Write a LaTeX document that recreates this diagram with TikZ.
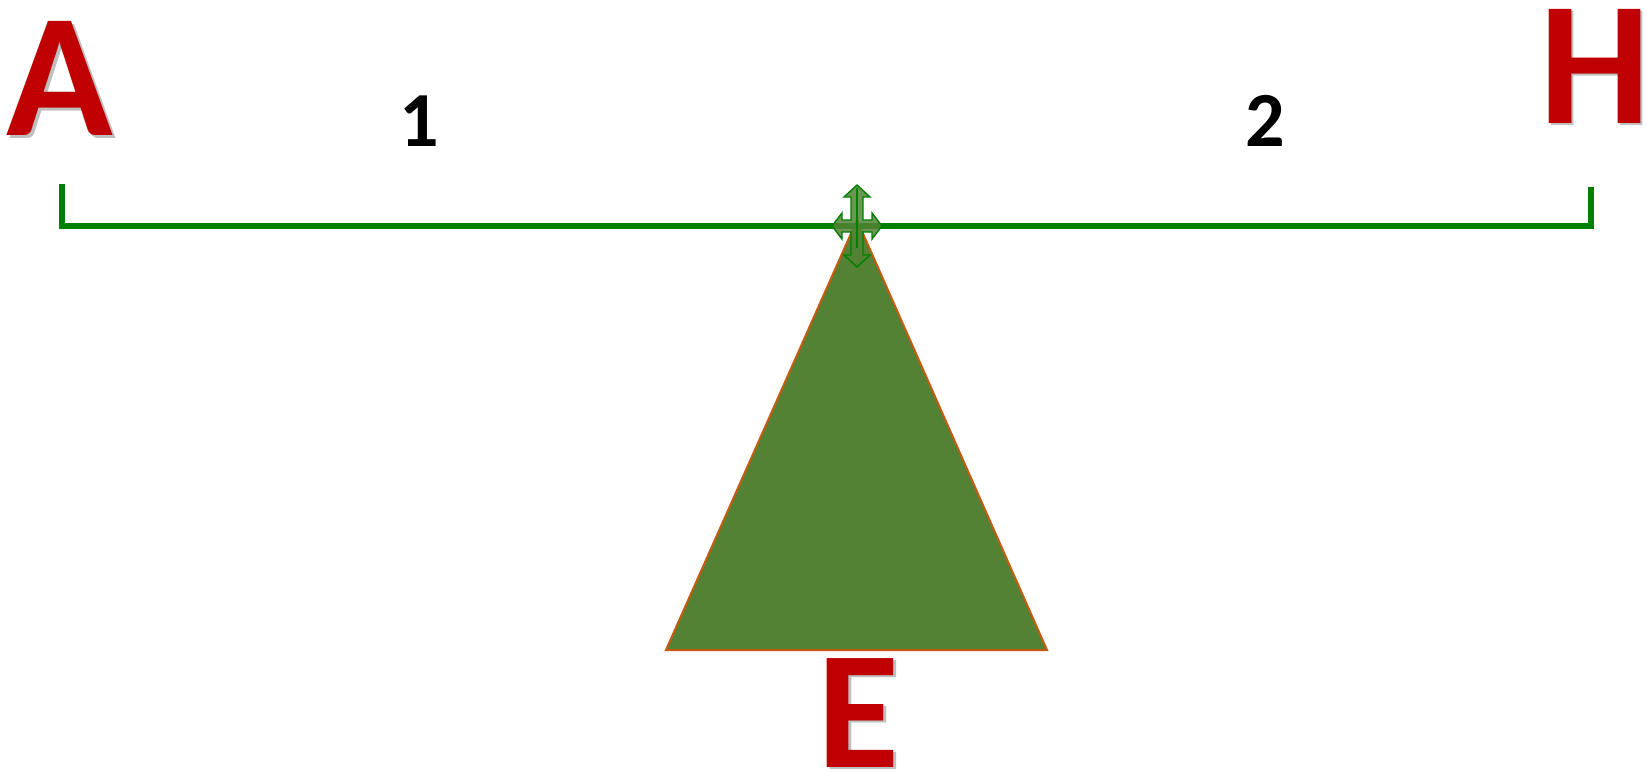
\documentclass[tikz,border=0pt]{standalone}
\usepackage{fontspec}
\setmainfont{Carlito}
\usetikzlibrary{calc}
\definecolor{letterred}{HTML}{C00000}
\definecolor{beamgreen}{HTML}{008000}
\definecolor{fulcrum}{HTML}{548235}
\definecolor{rim}{HTML}{C55A11}
\begin{document}
\begin{tikzpicture}[x=0.5pt,y=-0.5pt,
  bigletter/.style={font=\fontsize{88}{88}\selectfont\bfseries, text=letterred, inner sep=0pt},
  shade/.style={font=\fontsize{88}{88}\selectfont\bfseries, text=black, text opacity=0.25, inner sep=0pt},
  digit/.style={font=\fontsize{39}{39}\selectfont\bfseries, text=black, inner sep=0pt},
  beam/.style={draw=beamgreen, line width=2.8pt},
  pivot/.style={fill=fulcrum, draw=rim, line width=1pt, line join=miter},
  movearrow/.style={fill=fulcrum, fill opacity=0.85, draw=beamgreen, line width=0.7pt},
]
\useasboundingbox (0,0) rectangle (1646,772);
% letters with soft shadow
\node[shade] (shadeA) at (63,81) {A};
\node[bigletter] (letterA) at (60,78) {A};
\node[shade] (shadeH) at (1597,68) {H};
\node[bigletter] (letterH) at (1595,66) {H};
\node[shade,font=\fontsize{84}{84}\selectfont\bfseries] (shadeE) at (861,715) {E};
\node[bigletter,font=\fontsize{84}{84}\selectfont\bfseries] (letterE) at (858,713) {E};
\node[digit] (markOne) at (419,121) {1};
\node[digit] (markTwo) at (1265,121) {2};
% fulcrum
\coordinate (apex) at (857,220);
\draw[pivot] (apex) -- (1047,650) -- (666,650) -- cycle;
% beam with end ticks
\coordinate (beamL) at (62,226);
\coordinate (beamR) at (1591,226);
\draw[beam] (62,184) -- (beamL) -- (beamR) -- (1591,187);
% four-way arrow on the pivot point
\coordinate (hub) at (857,226);
\draw[movearrow] ($(hub)+(0,-41)$) -- ++(13,12) -- ++(-7,0) -- ++(0,23) -- ++(9,0) -- ++(0,-7)
  -- ++(10,13) -- ++(-10,13) -- ++(0,-7) -- ++(-9,0) -- ++(0,23) -- ++(7,0) -- ++(-13,12)
  -- ++(-13,-12) -- ++(7,0) -- ++(0,-23) -- ++(-9,0) -- ++(0,7) -- ++(-10,-13) -- ++(10,-13)
  -- ++(0,7) -- ++(9,0) -- ++(0,-23) -- ++(-7,0) -- cycle;
\draw[draw=beamgreen, line width=1pt] ($(hub)+(0,-38)$) -- ($(hub)+(0,22)$);
\end{tikzpicture}
\end{document}
